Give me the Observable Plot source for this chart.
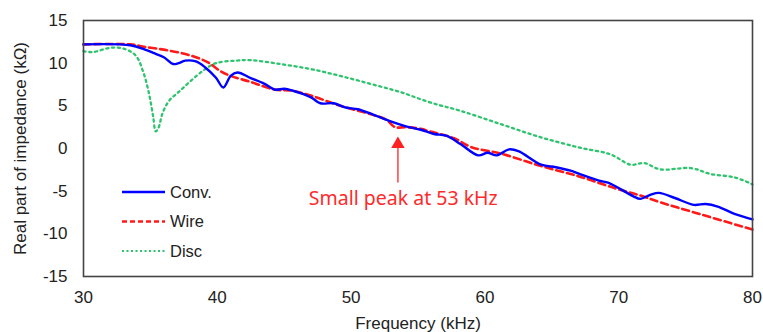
<!DOCTYPE html>
<html>
<head>
<meta charset="utf-8">
<script src="https://cdn.jsdelivr.net/npm/d3@7"></script>
<script src="https://cdn.jsdelivr.net/npm/@observablehq/plot@0.6"></script>
<style>
  html, body { margin: 0; padding: 0; background: #fff; }
  #wrap { position: relative; width: 763px; height: 332px; }
  #legend { position: absolute; left: 118px; top: 178px; }
</style>
</head>
<body>
<div id="wrap"></div>
<script>
// ---- data ----
const freqConv = [30, 33.5, 34.6, 35.4, 36.0, 36.7, 37.1, 37.6, 38.4, 39.1, 39.9, 40.45, 41.0, 41.5, 42.5, 43.5, 44.3, 45.0, 45.6, 47.0, 47.7, 48.7, 49.6, 50.5, 51.6, 52.9, 54.1, 55.2, 56.2, 57.1, 58.2, 59.5, 60.2, 60.9, 61.8, 62.5, 64.2, 65.3, 66.4, 67.1, 68.6, 69.2, 71.1, 71.6, 72.4, 73.0, 74.2, 75.6, 76.5, 77.4, 78.7, 80];
const conv     = [12.2, 12.1, 11.6, 11.1, 10.7, 9.9, 10.0, 10.3, 10.2, 9.5, 8.3, 7.15, 8.5, 8.9, 8.25, 7.6, 6.9, 7.0, 6.8, 6.0, 5.3, 5.3, 4.8, 4.6, 4.0, 3.2, 2.6, 2.2, 1.7, 1.5, 0.5, -0.8, -0.5, -0.8, -0.1, -0.3, -1.9, -2.2, -2.6, -3.0, -3.8, -4.0, -5.6, -5.9, -5.4, -5.2, -5.8, -6.6, -6.5, -6.8, -7.7, -8.3];

const freqWire = [30, 33.5, 34.6, 36.3, 38.0, 39.3, 40.2, 41.0, 42.5, 44.3, 45.5, 47.0, 49.2, 51.5, 52.6, 53.3, 54.1, 55.2, 55.9, 57.7, 59.0, 61.2, 64.2, 67.1, 69.8, 71.6, 73.1, 76.1, 80];
const wire     = [12.2, 12.2, 11.9, 11.5, 10.9, 10.1, 9.1, 8.5, 7.8, 6.9, 6.8, 6.2, 5.0, 4.0, 3.4, 2.5, 2.5, 2.3, 2.0, 1.2, 0.15, -0.6, -2.06, -3.3, -4.7, -5.5, -6.3, -7.7, -9.5];

const freqDisc = [30, 30.7, 32.0, 33.0, 33.9, 34.5, 34.9, 35.2, 35.4, 35.6, 35.9, 36.4, 37.1, 38.0, 39.0, 39.9, 41.4, 42.5, 44.7, 47.0, 49.2, 51.5, 53.7, 55.9, 58.2, 61.2, 64.2, 67.1, 69.4, 70.9, 71.9, 73.1, 75.4, 76.9, 78.7, 80];
const disc     = [11.4, 11.3, 11.8, 11.7, 10.9, 8.8, 6.4, 3.8, 2.0, 2.4, 4.1, 5.6, 6.6, 7.9, 9.2, 10.0, 10.3, 10.35, 9.9, 9.3, 8.5, 7.55, 6.6, 5.4, 4.4, 2.85, 1.3, 0.1, -0.7, -1.9, -1.7, -2.45, -2.3, -3.0, -3.4, -4.2];

const seriesNames = ["Conv.", "Wire", "Disc"];
const xTicks = [30, 40, 50, 60, 70, 80];
const yTicks = [-15, -10, -5, 0, 5, 10, 15];

const noteText = ["Small peak at 53 kHz"];
const noteFreq = [53.5];
const noteArrowFrom = [-4.05];
const noteArrowTo = [0.5];
const noteTextFreq = [53.9];
const noteTextY = [-5.9];

// ---- build tables ----
const toRows = (fs, vs, s) => fs.map((f, i) => ({f, v: vs[i], s}));
const convRows = toRows(freqConv, conv, seriesNames[0]);
const wireRows = toRows(freqWire, wire, seriesNames[1]);
const discRows = toRows(freqDisc, disc, seriesNames[2]);

const BLUE = "#0000ff", RED = "#ff1a1a", GREEN = "#2ec46e";
const FONT = "'Liberation Sans', Arial, sans-serif";

const chart = Plot.plot({
  width: 763,
  height: 332,
  marginLeft: 83,
  marginRight: 11,
  marginTop: 20,
  marginBottom: 56,
  style: {fontFamily: FONT, background: "#fff", color: "#222"},
  x: {domain: [30, 80]},
  y: {domain: [-15, 15]},
  marks: [
    Plot.axisX({ticks: xTicks, tickSize: 0, tickPadding: 14, fontSize: 17, tickFormat: d => d,
      label: "Frequency (kHz)", labelAnchor: "center", labelArrow: "none", labelOffset: 52}),
    Plot.axisY({ticks: yTicks, tickSize: 0, tickPadding: 16, fontSize: 17, tickFormat: d => d,
      label: "Real part of impedance (kΩ)", labelAnchor: "center", labelArrow: "none", labelOffset: 70}),
    Plot.line(discRows, {x: "f", y: "v", stroke: GREEN, strokeWidth: 2.3, strokeDasharray: "2.2,3.6", curve: "catmull-rom"}),
    Plot.line(wireRows, {x: "f", y: "v", stroke: RED, strokeWidth: 2.6, strokeDasharray: "7,4", curve: "catmull-rom"}),
    Plot.line(convRows, {x: "f", y: "v", stroke: BLUE, strokeWidth: 2.4, curve: "catmull-rom"}),
    Plot.ruleX(noteFreq, {x: d => d, y1: () => noteArrowFrom[0], y2: () => noteArrowTo[0], stroke: "#ff4040", strokeWidth: 1.5}),
    Plot.dot(noteFreq, {x: d => d, y: () => noteArrowTo[0], symbol: "triangle", r: 5, fill: "#ff2020", stroke: "none"}),
    Plot.text(noteText, {x: () => noteTextFreq[0], y: () => noteTextY[0], text: d => d, fill: "#ff2a2a",
      fontSize: 19.5, fontFamily: "'Noto Sans', sans-serif", textAnchor: "middle"}),
    Plot.frame({stroke: "#444", strokeWidth: 1.6})
  ]
});

const wrap = document.getElementById("wrap");
wrap.appendChild(chart);

// ---- legend overlay ----
const legendItems = [
  {name: seriesNames[0], color: BLUE, dash: null, w: 2.4},
  {name: seriesNames[1], color: RED, dash: "5,3", w: 2.4},
  {name: seriesNames[2], color: GREEN, dash: "2,2.5", w: 2.2}
];
const leg = d3.create("svg").attr("id", "legend").attr("width", 110).attr("height", 90)
  .style("font-family", FONT).style("font-size", "16.5px");
legendItems.forEach((it, i) => {
  const g = leg.append("g").attr("transform", `translate(0,${14 + i * 29.5})`);
  g.append("line").attr("x1", 4).attr("x2", 47).attr("y1", 0).attr("y2", 0)
    .attr("stroke", it.color).attr("stroke-width", it.w)
    .attr("stroke-dasharray", it.dash);
  g.append("text").attr("x", 52).attr("y", 0).attr("dy", "0.35em").attr("fill", "#222").text(it.name);
});
wrap.appendChild(leg.node());
</script>
</body>
</html>
